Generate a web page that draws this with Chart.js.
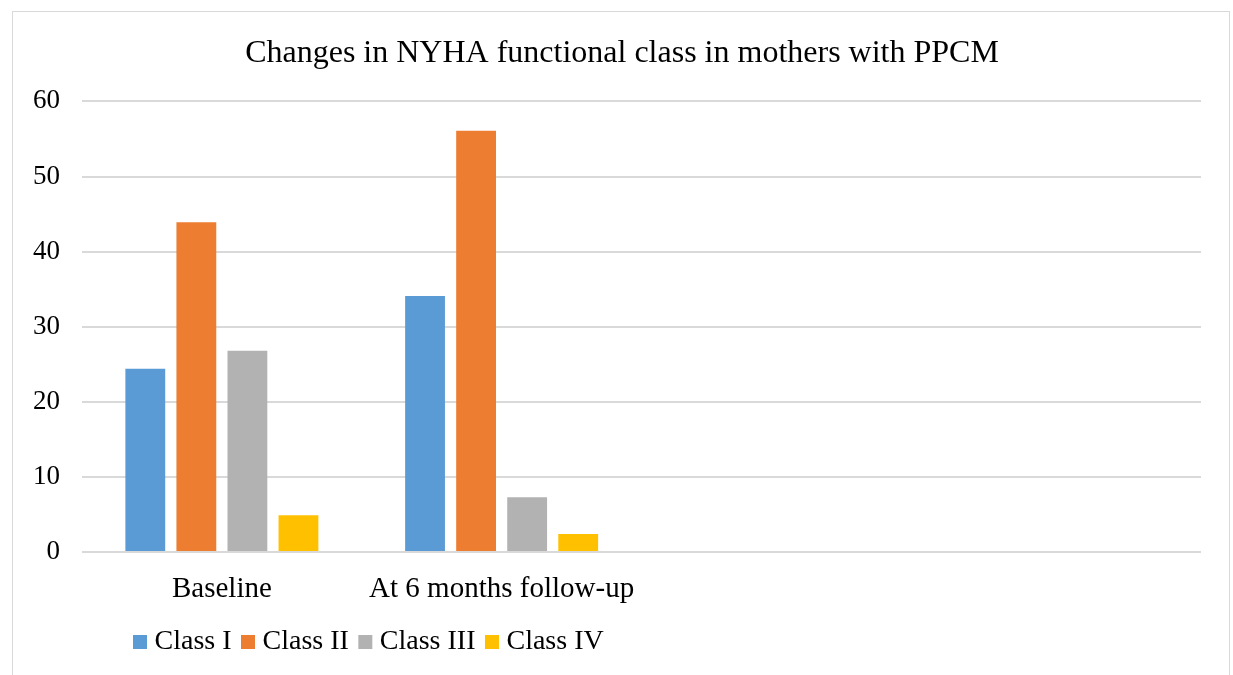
<!DOCTYPE html>
<html>
<head>
<meta charset="utf-8">
<script src="https://cdn.jsdelivr.net/npm/chart.js@4.4.1/dist/chart.umd.min.js"></script>
<style>
   html, body { margin: 0; padding: 0; background: #fff; }
   #frame {
      position: absolute; left: 12px; top: 11px;
      width: 1216px; height: 664px;
      border: 1px solid #d9d9d9; border-bottom: none;
   }
   canvas { display: block; }
</style>
</head>
<body>
<div id="frame"><canvas id="chart"></canvas></div>
<script>
// categories (the last two are empty slots, like the source sheet)
const categories = [ 'Baseline', 'At 6 months follow-up', '', '' ]

const seriesNames = [ 'Class I', 'Class II', 'Class III', 'Class IV' ]
const classI = [ 24.4, 34.1, null, null ]
const classII = [ 43.9, 56.1, null, null ]
const classIII = [ 26.8, 7.3, null, null ]
const classIV = [ 4.9, 2.4, null, null ]
const colors = [ '#5b9bd5', '#ed7d31', '#b2b2b2', '#ffc000' ]

const yTicks = [ 0, 10, 20, 30, 40, 50, 60 ]

const serif = '"Liberation Serif", "Times New Roman", serif'
Chart.defaults.color = '#000'
Chart.defaults.font.family = serif

// legend sits left-aligned under the first group, title a bit right of canvas centre
const boxShift = {
   id: 'box_shift',
   afterLayout( chart ) {
      const lg = chart.legend
      const pad = lg.options.labels.padding
      const dx = 126.5 - ( lg.left + pad )
      lg.left += dx
      lg.right += dx

      const tb = chart.titleBlock
      tb.left += 15
      tb.right += 15
   },
}

const datasets = [ classI, classII, classIII, classIV ].map( ( data, i ) => ( {
   label: seriesNames[ i ],
   data,
   backgroundColor: colors[ i ],
   borderWidth: 0,
   categoryPercentage: 0.73,
   barPercentage: 0.78,
} ) )

new Chart( document.getElementById( 'chart' ), {
   type: 'bar',
   data: { labels: categories, datasets },
   plugins: [ boxShift ],
   options: {
      responsive: true,
      maintainAspectRatio: false,
      animation: false,
      layout: { padding: { left: 0, right: 28, top: 0, bottom: 10 } },
      plugins: {
         title: {
            display: true,
            text: 'Changes in NYHA functional class in mothers with PPCM',
            font: { size: 32, weight: 'normal' },
            color: '#000',
            padding: { top: 22, bottom: 29 },
         },
         legend: {
            position: 'bottom',
            align: 'start',
            labels: {
               font: { size: 28 },
               color: '#000',
               usePointStyle: true,
               pointStyle: 'rect',
               boxWidth: 1,
               boxHeight: 14,
               padding: 16,
            },
         },
         tooltip: { enabled: false },
      },
      scales: {
         x: {
            grid: { display: false, drawTicks: false },
            border: { display: false },
            ticks: { font: { size: 29 }, padding: 20, maxRotation: 0, autoSkip: false },
            afterFit( scale ) {
               scale.height = 60
            },
         },
         y: {
            min: 0,
            max: 60,
            afterBuildTicks( scale ) {
               scale.ticks = yTicks.map( ( v ) => ( { value: v } ) )
            },
            afterFit( scale ) {
               scale.width = 69
            },
            grid: { color: '#d9d9d9', lineWidth: 2, drawTicks: false },
            border: { display: false },
            ticks: { font: { size: 27 }, padding: 22 },
         },
      },
   },
} )
</script>
</body>
</html>
